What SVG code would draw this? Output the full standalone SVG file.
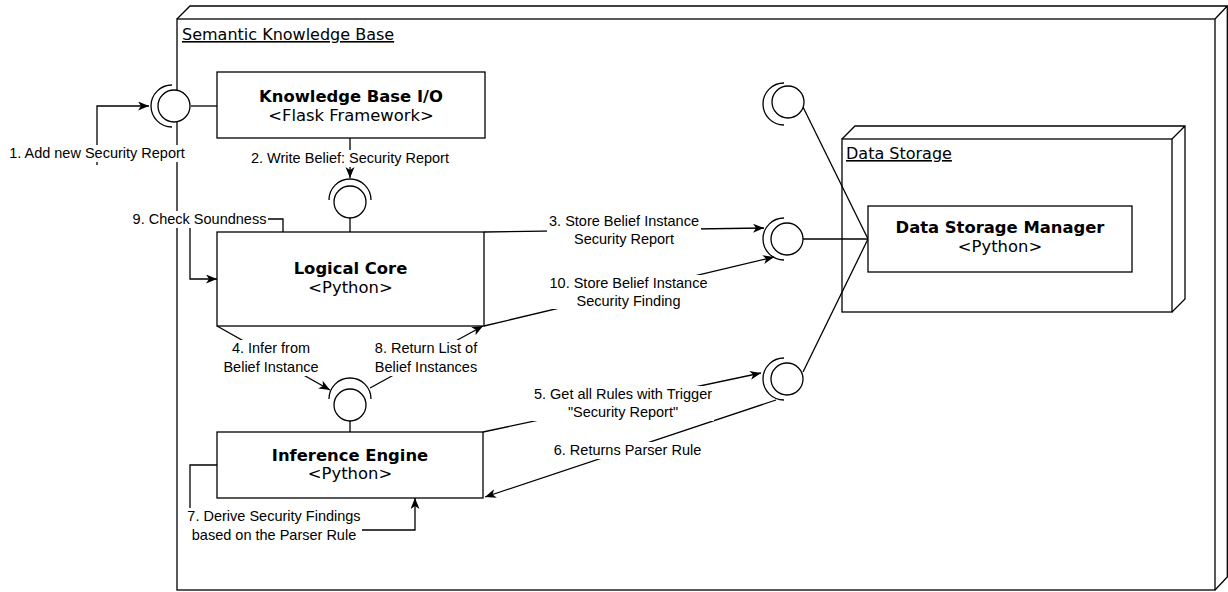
<svg xmlns="http://www.w3.org/2000/svg" width="1228" height="592" viewBox="0 0 1228 592">
<style>
.ln{fill:none;stroke:#000;stroke-width:1.3}
.box{fill:#fff;stroke:#000;stroke-width:1.3}
.bg{fill:#fff;stroke:none}
.nt{font-family:"DejaVu Sans",Verdana,sans-serif;font-size:16.4px;text-anchor:middle;fill:#000}
.nb{font-weight:bold}
.tt{font-family:"DejaVu Sans",Verdana,sans-serif;font-size:16px;fill:#000;text-decoration:underline}
.lb{font-family:"Liberation Sans",Arial,sans-serif;font-size:14.5px;text-anchor:middle;fill:#000}
</style>
<defs>
<marker id="arr" markerUnits="userSpaceOnUse" markerWidth="12" markerHeight="10" refX="11" refY="4.5" orient="auto">
<path d="M0,0 L11,4.5 L0,9 L3,4.5 z" fill="#000"/>
</marker>
</defs>
<rect x="0" y="0" width="1228" height="592" fill="#fff"/>
<g id="semantic-knowledge-base">
<rect class="box" x="177" y="19" width="1038" height="571"/>
<path class="ln" d="M177,19 L190,6 L1227.3,6 L1227.3,577 L1215,590 M1215,19 L1227.3,6"/>
<text class="tt" x="182" y="40">Semantic Knowledge Base</text>
</g>
<g id="data-storage">
<rect class="box" x="842" y="139" width="330" height="173"/>
<path class="ln" d="M842,139 L855,126 L1185,126 L1185,299 L1172,312 M1172,139 L1185,126"/>
<text class="tt" x="846" y="159">Data Storage</text>
</g>
<g id="connectors">
<path class="ln" d="M97,165 V106 H149" marker-end="url(#arr)"/>
<path class="ln" d="M191,106 H217"/>
<path class="ln" d="M350,138 V178" marker-end="url(#arr)"/>
<path class="ln" d="M350,218 V232"/>
<path class="ln" d="M484,232 L764,228" marker-end="url(#arr)"/>
<path class="ln" d="M484,326 L774,257" marker-end="url(#arr)"/>
<path class="ln" d="M283,232 V219 H190 V279 H217" marker-end="url(#arr)"/>
<path class="ln" d="M217,326 L330,390" marker-end="url(#arr)"/>
<path class="ln" d="M370,388 L483,326" marker-end="url(#arr)"/>
<path class="ln" d="M350,421 V432"/>
<path class="ln" d="M483,432 L761,373" marker-end="url(#arr)"/>
<path class="ln" d="M776,400 L485,497" marker-end="url(#arr)"/>
<path class="ln" d="M217,465 H190 V530 H415 V498" marker-end="url(#arr)"/>
<path class="ln" d="M803,239 H868"/>
<path class="ln" d="M803,107 L868,239"/>
<path class="ln" d="M803,372 L868,239"/>
<rect class="bg" x="8" y="145" width="178" height="17"/>
<text class="lb" x="97" y="158">1. Add new Security Report</text>
<rect class="bg" x="249" y="150" width="202" height="17"/>
<text class="lb" x="350" y="163">2. Write Belief: Security Report</text>
<rect class="bg" x="131" y="211" width="137" height="17"/>
<text class="lb" x="199.5" y="224">9. Check Soundness</text>
<rect class="bg" x="547" y="213" width="154" height="35"/>
<text class="lb" x="624" y="226">3. Store Belief Instance</text>
<text class="lb" x="624" y="244">Security Report</text>
<rect class="bg" x="548" y="275" width="161" height="34"/>
<text class="lb" x="628.5" y="288">10. Store Belief Instance</text>
<text class="lb" x="628.5" y="306">Security Finding</text>
<rect class="bg" x="222" y="340" width="99" height="36"/>
<text class="lb" x="271" y="353">4. Infer from</text>
<text class="lb" x="271" y="372">Belief Instance</text>
<rect class="bg" x="374" y="340" width="105" height="36"/>
<text class="lb" x="426" y="353">8. Return List of</text>
<text class="lb" x="426" y="372">Belief Instances</text>
<rect class="bg" x="532" y="386" width="182" height="35"/>
<text class="lb" x="623" y="399">5. Get all Rules with Trigger</text>
<text class="lb" x="623" y="417">"Security Report"</text>
<rect class="bg" x="551" y="442" width="153" height="17"/>
<text class="lb" x="627.5" y="455">6. Returns Parser Rule</text>
<rect class="bg" x="186" y="508" width="176" height="36"/>
<text class="lb" x="274" y="521">7. Derive Security Findings</text>
<text class="lb" x="274" y="540">based on the Parser Rule</text>
</g>
<g id="if-kbio">
<circle class="box" cx="174" cy="106" r="16"/>
<path class="ln" d="M172,85 A21,21 0 0 0 172,127"/>
</g>
<g id="if-logical-core">
<circle class="box" cx="350" cy="202" r="16"/>
<path class="ln" d="M329,200 A21,21 0 0 1 371,200"/>
</g>
<g id="if-inference">
<circle class="box" cx="350" cy="405" r="16"/>
<path class="ln" d="M329,399 A21,21 0 0 1 371,399"/>
</g>
<g id="if-ds-top">
<circle class="box" cx="788" cy="102" r="16"/>
<path class="ln" d="M784,83 A21,21 0 0 0 784,125"/>
</g>
<g id="if-ds-mid">
<circle class="box" cx="787" cy="239" r="16"/>
<path class="ln" d="M784,218 A21,21 0 0 0 784,260"/>
</g>
<g id="if-ds-bot">
<circle class="box" cx="787" cy="379" r="16"/>
<path class="ln" d="M784,358 A21,21 0 0 0 784,400"/>
</g>
<g id="kb-io">
<rect class="box" x="217" y="72" width="268" height="66"/>
<text class="nt nb" x="351" y="102">Knowledge Base I/O</text>
<text class="nt" x="351" y="121">&lt;Flask Framework&gt;</text>
</g>
<g id="logical-core">
<rect class="box" x="217" y="232" width="267" height="94"/>
<text class="nt nb" x="350.5" y="274">Logical Core</text>
<text class="nt" x="350.5" y="293">&lt;Python&gt;</text>
</g>
<g id="inference-engine">
<rect class="box" x="217" y="432" width="266" height="66"/>
<text class="nt nb" x="350" y="461">Inference Engine</text>
<text class="nt" x="350" y="479">&lt;Python&gt;</text>
</g>
<g id="data-storage-manager">
<rect class="box" x="868" y="206" width="264" height="66"/>
<text class="nt nb" x="1000" y="233">Data Storage Manager</text>
<text class="nt" x="1000" y="252">&lt;Python&gt;</text>
</g>
</svg>
